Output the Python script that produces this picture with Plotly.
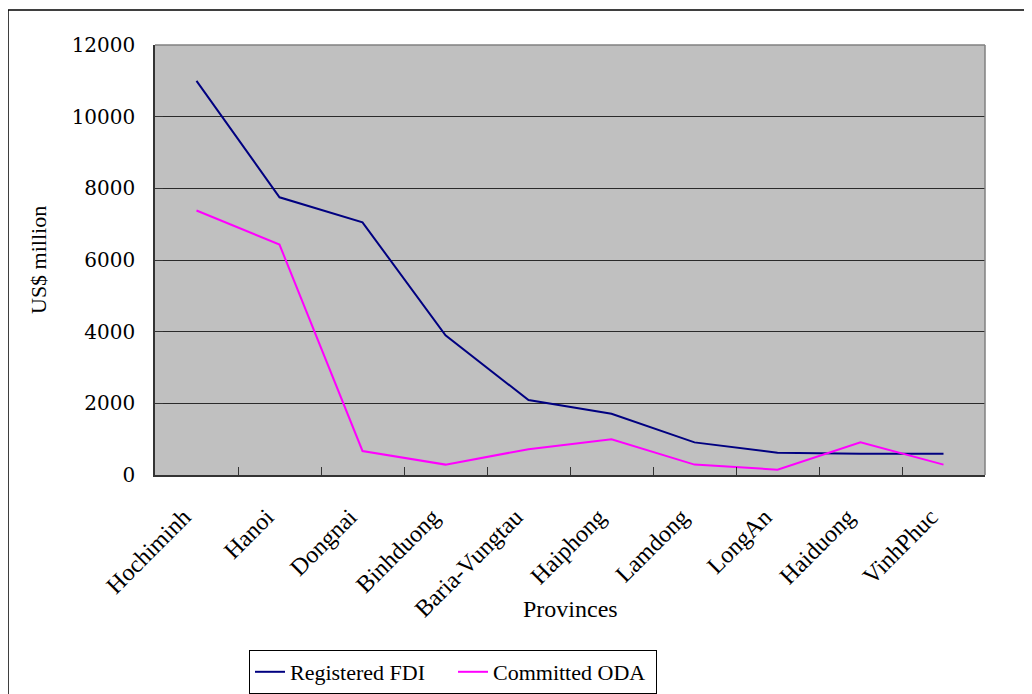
import plotly.graph_objects as go

provinces = ["Hochiminh", "Hanoi", "Dongnai", "Binhduong", "Baria-Vungtau",
             "Haiphong", "Lamdong", "LongAn", "Haiduong", "VinhPhuc"]
registered_fdi = [11000, 7750, 7050, 3900, 2090, 1710, 910, 620, 590, 590]
committed_oda = [7380, 6430, 670, 290, 720, 1000, 290, 150, 910, 290]
y_ticks = [0, 2000, 4000, 6000, 8000, 10000, 12000]

OFF = 8  # page body margin
W, H = 1032 - OFF, 694 - OFF
L, R, T, B = 155 - OFF, 985 - OFF, 45 - OFF, 475 - OFF  # plot area in figure px

def px_x(p):
    return (p - OFF - L) / (R - L)

def px_y(p):
    return (B - (p - OFF)) / (B - T)

fig = go.Figure()
fig.add_trace(go.Scatter(x=provinces, y=registered_fdi, mode="lines",
                         name="Registered FDI",
                         line=dict(color="#000080", width=2)))
fig.add_trace(go.Scatter(x=provinces, y=committed_oda, mode="lines",
                         name="Committed ODA",
                         line=dict(color="#FF00FF", width=2)))

fig.update_layout(
    width=W, height=H,
    margin=dict(l=L, r=W - R, t=T, b=H - B, autoexpand=False),
    paper_bgcolor="white",
    plot_bgcolor="#C0C0C0",
    font=dict(family="Liberation Serif", color="black"),
    showlegend=True,
    legend=dict(orientation="h", x=px_x(453), y=px_y(650),
                xanchor="center", yanchor="top",
                bordercolor="black", borderwidth=1, bgcolor="white",
                font=dict(family="Liberation Serif", size=22),
                entrywidth=158, entrywidthmode="pixels",
                tracegroupgap=0),
    xaxis=dict(type="category", tickangle=-45, tickson="boundaries",
               tickvals=provinces,
               ticktext=[p + "\u00a0\u00a0\u00a0" for p in provinces],
               ticks="inside", ticklen=8, tickcolor="#333333",
               showline=True, linecolor="#333333", linewidth=1.5,
               showgrid=False, mirror=False,
               tickfont=dict(family="Liberation Serif", size=24),
               ticklabelstandoff=4,
               range=[-0.5, 9.5]),
    yaxis=dict(range=[0, 12000], tickvals=y_ticks, tickformat="d",
               ticks="inside", ticklen=8, tickcolor="#333333",
               showline=True, linecolor="#333333", linewidth=1.5,
               showgrid=True, gridcolor="#2a2a2a", gridwidth=1,
               zeroline=False,
               tickfont=dict(family="DejaVu Serif", size=20),
               ticklabelstandoff=14),
)

# top and right border of plot area (gray)
fig.add_shape(type="line", xref="paper", yref="paper", x0=0, x1=1, y0=1, y1=1,
              line=dict(color="#808080", width=1.5))
fig.add_shape(type="line", xref="paper", yref="paper", x0=1, x1=1, y0=0, y1=1,
              line=dict(color="#808080", width=1.5))
# outer chart border (right/bottom fall outside the picture)
fig.add_shape(type="rect", xref="paper", yref="paper",
              x0=px_x(8), x1=px_x(1045), y0=px_y(705), y1=px_y(10),
              line=dict(color="black", width=1.5), layer="below")

fig.add_annotation(text="Provinces", xref="paper", yref="paper",
                   x=px_x(570), y=px_y(609), showarrow=False,
                   xanchor="center", yanchor="middle",
                   font=dict(family="Liberation Serif", size=24))
fig.add_annotation(text="US$ million", xref="paper", yref="paper",
                   x=px_x(38), y=px_y(260), showarrow=False, textangle=-90,
                   xanchor="center", yanchor="middle",
                   font=dict(family="Liberation Serif", size=22))

fig.write_html("out.html")
